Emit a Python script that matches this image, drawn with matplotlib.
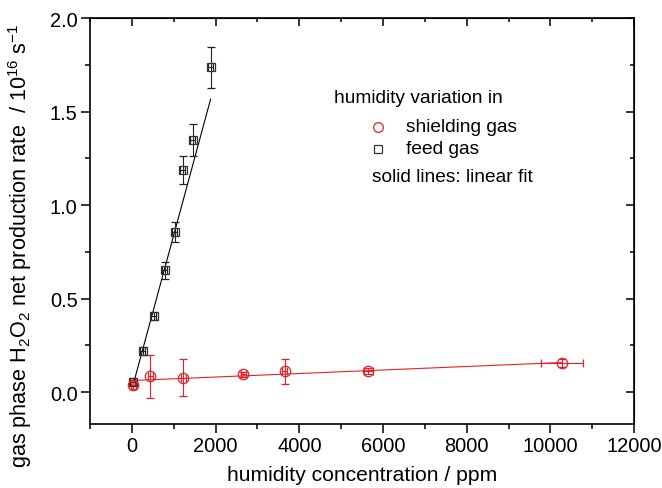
import numpy as np
import matplotlib.pyplot as plt
from matplotlib.ticker import MultipleLocator

plt.rcParams["font.family"] = ["Liberation Sans", "DejaVu Sans"]
plt.rcParams["mathtext.fontset"] = "custom"
plt.rcParams["mathtext.rm"] = "Liberation Sans"
plt.rcParams["mathtext.it"] = "Liberation Sans:italic"

# humidity added to the feed gas (ppm) and H2O2 rate (1e16 s^-1)
feed_x = [24, 262, 524, 786, 1024, 1214, 1452, 1881]
feed_y = [0.053, 0.219, 0.406, 0.652, 0.856, 1.187, 1.348, 1.738]
feed_yerr = [0.02, 0.02, 0.02, 0.045, 0.055, 0.075, 0.085, 0.11]
feed_xerr = [60, 60, 60, 60, 60, 60, 60, 60]

# humidity added to the shielding gas
shield_x = [31, 436, 1230, 2659, 3650, 5650, 10270]
shield_y = [0.039, 0.086, 0.077, 0.095, 0.111, 0.114, 0.155]
shield_yerr = [0.02, 0.115, 0.1, 0.015, 0.068, 0.015, 0.02]
shield_xerr = [60, 60, 60, 60, 60, 107, 500]

# linear fits (intercept, slope)
feed_fit = (0.015, 0.000825)
shield_fit = (0.062, 9.4e-6)

red = "#e8202a"

fig = plt.figure(figsize=(6.62, 4.89), dpi=100)
ax = fig.add_axes([0.136, 0.131, 0.822, 0.830])

ax.errorbar(feed_x, feed_y, yerr=feed_yerr, xerr=feed_xerr, fmt="s", ms=6,
            mfc="none", mec="#333333", mew=0.9, ecolor="#222222", elinewidth=0.8,
            capsize=3, capthick=0.8, zorder=3)
ax.errorbar(shield_x, shield_y, yerr=shield_yerr, xerr=shield_xerr, fmt="o", ms=7.5,
            mfc="none", mec=red, mew=0.9, ecolor=red, elinewidth=0.8,
            capsize=3, capthick=0.8, zorder=3)

fx = np.array([feed_x[0], feed_x[-1]])
ax.plot(fx, feed_fit[0] + feed_fit[1] * fx, color="black", lw=0.8)
sx = np.array([shield_x[0], shield_x[-1]])
ax.plot(sx, shield_fit[0] + shield_fit[1] * sx, color=red, lw=0.8)

ax.set_xlim(-1000, 12000)
ax.set_ylim(-0.17, 2.0)
ax.xaxis.set_major_locator(MultipleLocator(2000))
ax.xaxis.set_minor_locator(MultipleLocator(1000))
ax.yaxis.set_major_locator(MultipleLocator(0.5))
ax.yaxis.set_minor_locator(MultipleLocator(0.25))
ax.set_yticks([0.0, 0.5, 1.0, 1.5, 2.0])
ax.set_yticklabels(["0.0", "0.5", "1.0", "1.5", "2.0"])

for s in ax.spines.values():
    s.set_linewidth(1.2)
ax.tick_params(which="both", direction="out", labelsize=14.4, width=1.1)
ax.tick_params(which="major", length=6.5, pad=2.5)
ax.tick_params(which="minor", length=3.5)

# mirrored ticks pointing inward on top and right
top = ax.secondary_xaxis("top")
top.xaxis.set_major_locator(MultipleLocator(2000))
top.xaxis.set_minor_locator(MultipleLocator(1000))
top.tick_params(which="both", direction="in", labeltop=False, width=1.1)
top.tick_params(which="major", length=6)
top.tick_params(which="minor", length=3)
right = ax.secondary_yaxis("right")
right.yaxis.set_major_locator(MultipleLocator(0.5))
right.yaxis.set_minor_locator(MultipleLocator(0.25))
right.tick_params(which="both", direction="in", labelright=False, width=1.1)
right.tick_params(which="major", length=6)
right.tick_params(which="minor", length=3)

ax.set_xlabel("humidity concentration / ppm", fontsize=15.2)
ax.xaxis.set_label_coords(0.5, -0.10)
ax.set_ylabel("gas phase H$_2$O$_2$ net production rate  / 10$^{16}$ s$^{-1}$", fontsize=15.6)
ax.yaxis.set_label_coords(-0.103, 0.44)

# legend written as plain text
ax.text(4830, 1.575, "humidity variation in", fontsize=13.8, va="center")
ax.plot([5880], [1.42], "o", ms=7, mfc="none", mec=red, mew=0.9)
ax.text(6550, 1.42, "shielding gas", fontsize=13.8, va="center")
ax.plot([5880], [1.30], "s", ms=6, mfc="none", mec="#333333", mew=0.9)
ax.text(6550, 1.30, "feed gas", fontsize=13.8, va="center")
ax.text(5740, 1.155, "solid lines: linear fit", fontsize=13.8, va="center")

fig.savefig("out.png", dpi=100)
